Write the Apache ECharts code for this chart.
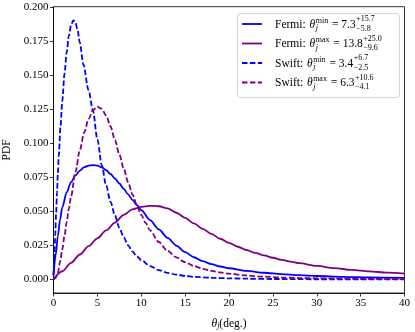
<!DOCTYPE html>
<html>
<head>
<meta charset="utf-8">
<script src="https://cdn.jsdelivr.net/npm/echarts@6/dist/echarts.min.js"></script>
<style>
  html, body { margin: 0; padding: 0; background: #fff; }
  #chart { width: 415px; height: 332px; }
</style>
</head>
<body>
<div id="chart"></div>
<script>
// values
const fermiMinX = [0, 0.25, 0.5, 0.75, 1.0, 1.5, 2.0, 2.5, 3.0, 3.5, 4.0, 4.5, 5.0, 5.5, 6.0, 6.5, 7.0, 7.5, 8.0, 8.5, 9.0, 9.5, 10, 11, 12, 13, 14, 15, 16, 17, 18, 19, 20, 22, 24, 26, 28, 30, 33, 36, 40];
const fermiMinY = [0.003, 0.018, 0.032, 0.044, 0.053, 0.064, 0.0715, 0.0765, 0.080, 0.0825, 0.0837, 0.084, 0.0836, 0.0824, 0.0803, 0.0775, 0.0742, 0.0705, 0.0665, 0.0625, 0.0585, 0.0547, 0.051, 0.0436, 0.0368, 0.0305, 0.0249, 0.0201, 0.0163, 0.0134, 0.0112, 0.0095, 0.0082, 0.0063, 0.0049, 0.0039, 0.0031, 0.0025, 0.0019, 0.0015, 0.0011];

const fermiMaxX = [0, 1, 2, 3, 4, 5, 6, 7, 8, 9, 10, 11, 11.5, 12, 13, 14, 15, 16, 17, 18, 19, 20, 21, 22, 23, 24, 25, 26, 27, 28, 30, 32, 34, 36, 38, 40];
const fermiMaxY = [0.0, 0.006, 0.0122, 0.0183, 0.0244, 0.0302, 0.036, 0.0418, 0.0475, 0.0515, 0.0533, 0.054, 0.0541, 0.0538, 0.0522, 0.049, 0.0453, 0.0412, 0.0372, 0.0334, 0.0299, 0.0268, 0.024, 0.0216, 0.0195, 0.0176, 0.0159, 0.0144, 0.0131, 0.0119, 0.0099, 0.0083, 0.007, 0.0059, 0.005, 0.0042];

const swiftMinX = [0, 0.1, 0.2, 0.3, 0.4, 0.5, 0.6, 0.8, 1.0, 1.25, 1.5, 1.75, 2.0, 2.25, 2.5, 2.75, 3.0, 3.4, 4.0, 4.5, 5.0, 5.5, 6.0, 6.5, 7.0, 7.5, 8.0, 8.5, 9.0, 9.5, 10, 11, 12, 13, 14, 15, 16, 18, 20, 22, 25, 30, 35, 40];
const swiftMinY = [0.003, 0.016, 0.033, 0.049, 0.064, 0.078, 0.091, 0.113, 0.131, 0.151, 0.167, 0.179, 0.187, 0.1905, 0.189, 0.183, 0.174, 0.158, 0.139, 0.124, 0.103, 0.084, 0.069, 0.057, 0.047, 0.038, 0.031, 0.025, 0.0205, 0.017, 0.0142, 0.0098, 0.0068, 0.0048, 0.0035, 0.0026, 0.0019, 0.0012, 0.0008, 0.0005, 0.0003, 0.0001, 0.00005, 0.00002];

const swiftMaxX = [0, 0.25, 0.5, 0.75, 1.0, 1.25, 1.5, 1.75, 2.0, 2.5, 3.0, 3.5, 4.0, 4.5, 5.0, 5.5, 6.0, 6.5, 7.0, 7.5, 8.0, 8.5, 9.0, 9.5, 10, 10.5, 11, 12, 13, 14, 15, 16, 17, 18, 19, 20, 22, 24, 26, 28, 30, 35, 40];
const swiftMaxY = [0.0, 0.001, 0.005, 0.013, 0.022, 0.032, 0.042, 0.052, 0.061, 0.079, 0.095, 0.108, 0.118, 0.1245, 0.127, 0.1255, 0.1205, 0.1125, 0.1025, 0.092, 0.0815, 0.0715, 0.0625, 0.0545, 0.0475, 0.0415, 0.036, 0.0275, 0.021, 0.0162, 0.0126, 0.0099, 0.0078, 0.0063, 0.0051, 0.0042, 0.0029, 0.002, 0.0014, 0.001, 0.0008, 0.0004, 0.0002];

const yTicks = [0, 0.025, 0.05, 0.075, 0.1, 0.125, 0.15, 0.175, 0.2];

// legend texts
const legendSources = ["Fermi", "Fermi", "Swift", "Swift"];
const legendKinds = ["min", "max", "min", "max"];
const legendMedians = ["7.3", "13.8", "3.4", "6.3"];
const legendPlus = ["+15.7", "+25.0", "+6.7", "+10.6"];
const legendMinus = ["\u22125.8", "\u22129.6", "\u22122.5", "\u22124.1"];

const BLUE = "#0000ff";
const PURPLE = "#800080";
const FONT = '"Liberation Serif", "DejaVu Serif", serif';
const DASH = [5.5, 2.4];

const curves = [
  { xs: fermiMinX, ys: fermiMinY, color: BLUE, dash: "solid" },
  { xs: fermiMaxX, ys: fermiMaxY, color: PURPLE, dash: "solid" },
  { xs: swiftMinX, ys: swiftMinY, color: BLUE, dash: DASH },
  { xs: swiftMaxX, ys: swiftMaxY, color: PURPLE, dash: DASH },
];

const chart = echarts.init(document.getElementById("chart"), null, { renderer: "canvas" });

// legend drawn by hand so the stacked super/subscripts can be placed
const measure = document.createElement("canvas").getContext("2d");
function textWidth(s, size, style) {
  measure.font = (style || "normal") + " " + size + "px " + FONT;
  return measure.measureText(s).width;
}

function legendGraphics() {
  const els = [];
  els.push({
    type: "rect",
    shape: { x: 237.5, y: 13.5, width: 162, height: 84, r: 3 },
    style: { fill: "rgba(255,255,255,0.8)", stroke: "#cccccc", lineWidth: 0.8 },
    z: 100,
  });
  const big = 11.5, small = 8;
  for (let i = 0; i < 4; i++) {
    const y = 24 + i * 19.5;
    els.push({
      type: "line",
      shape: { x1: 242, y1: y, x2: 262, y2: y },
      style: { stroke: curves[i].color, lineWidth: 1.8, lineDash: curves[i].dash === "solid" ? null : DASH },
      z: 101,
    });
    let x = 275;
    const put = (s, size, style, dy) => {
      els.push({
        type: "text",
        x: x, y: y + dy,
        style: { text: s, fontSize: size, fontFamily: FONT, fontStyle: style, fill: "#000", verticalAlign: "middle", align: "left" },
        z: 102,
      });
      return textWidth(s, size, style);
    };
    x += put(legendSources[i] + ": ", big, "normal", 0.5) + 1;
    x += put("\u03b8", big, "italic", 0.5) + 0.5;
    const w1 = put(legendKinds[i], small, "normal", -3.5);
    const w2 = put("j", small, "italic", 4);
    x += Math.max(w1, w2) + 1;
    x += put(" = " + legendMedians[i], big, "normal", 0.5) + 0.5;
    put(legendPlus[i], small, "normal", -5);
    put(legendMinus[i], small, "normal", 4.5);
  }
  return els;
}

const option = {
  animation: false,
  grid: {
    left: 53.5, right: 10.5, top: 6.7, bottom: 39,
    outerBoundsMode: "none",
    show: true, borderColor: "#000", borderWidth: 0.8, backgroundColor: "transparent",
  },
  xAxis: {
    type: "value",
    min: 0, max: 40, interval: 5,
    axisLine: { show: true, onZero: false, lineStyle: { color: "#000", width: 0.8 } },
    axisTick: { show: true, inside: false, length: 3.5, lineStyle: { color: "#000", width: 0.8 } },
    axisLabel: { color: "#000", fontFamily: FONT, fontSize: 11, margin: 5 },
    splitLine: { show: false },
    name: "{t|\u03b8}{s|j}{n|(deg.)}",
    nameLocation: "middle",
    nameGap: 24,
    nameTextStyle: {
      rich: {
        t: { fontFamily: FONT, fontSize: 11.5, fontStyle: "italic", color: "#000" },
        s: { fontFamily: FONT, fontSize: 8, fontStyle: "italic", color: "#000", padding: [5, 0, 0, 0] },
        n: { fontFamily: FONT, fontSize: 11.5, color: "#000" },
      },
    },
  },
  yAxis: {
    type: "value",
    min: -0.01, max: 0.2005,
    axisLine: { show: true, onZero: false, lineStyle: { color: "#000", width: 0.8 } },
    axisTick: { show: true, inside: false, length: 3.5, customValues: yTicks, lineStyle: { color: "#000", width: 0.8 } },
    axisLabel: {
      color: "#000", fontFamily: FONT, fontSize: 11, margin: 5,
      customValues: yTicks,
      formatter: (v) => v.toFixed(3),
    },
    splitLine: { show: false },
    name: "PDF",
    nameLocation: "middle",
    nameGap: 40,
    nameTextStyle: { fontFamily: FONT, fontSize: 11.5, color: "#000" },
  },
  series: curves.map((c) => ({
    type: "line",
    data: c.xs.map((x, i) => [x, c.ys[i]]),
    showSymbol: false,
    smooth: 0.3,
    smoothMonotone: "x",
    lineStyle: { color: c.color, width: 1.8, type: c.dash },
    itemStyle: { color: c.color },
  })),
  graphic: legendGraphics(),
};

option && chart.setOption(option);
</script>
</body>
</html>
